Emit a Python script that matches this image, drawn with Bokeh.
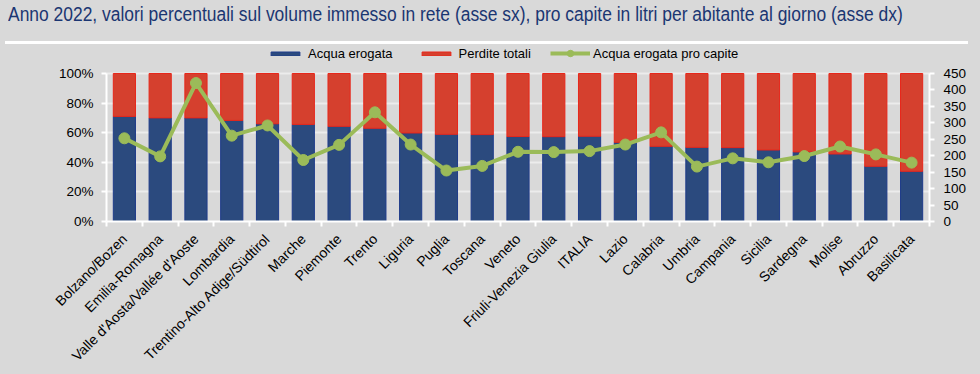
import math
from bokeh.plotting import figure
from bokeh.layouts import column
from bokeh.models import (Range1d, LinearAxis, FixedTicker, PrintfTickFormatter,
                          Legend, LegendItem, ColumnDataSource, Div)
from bokeh.embed import file_html
from bokeh.resources import INLINE

regions = ["Bolzano/Bozen", "Emilia-Romagna", "Valle d'Aosta/Vallée d'Aoste", "Lombardia",
           "Trentino-Alto Adige/Südtirol", "Marche", "Piemonte", "Trento", "Liguria", "Puglia",
           "Toscana", "Veneto", "Friuli-Venezia Giulia", "ITALIA", "Lazio", "Calabria", "Umbria",
           "Campania", "Sicilia", "Sardegna", "Molise", "Abruzzo", "Basilicata"]
acqua_erogata = [71.0, 70.0, 70.0, 68.3, 66.0, 65.6, 64.3, 63.0, 59.8, 58.9, 58.7, 57.4,
                 57.3, 57.6, 53.5, 50.8, 50.1, 49.9, 48.3, 47.0, 45.6, 37.3, 33.9]
perdite_totali = [round(100 - v, 1) for v in acqua_erogata]
pro_capite = [253, 198, 421, 261, 292, 187, 233, 332, 234, 155, 169, 212, 211, 214, 234,
              271, 167, 192, 180, 199, 228, 204, 179]
left_ticks = [0, 20, 40, 60, 80, 100]
right_ticks = [0, 50, 100, 150, 200, 250, 300, 350, 400, 450]

TITLE = ("Anno 2022, valori percentuali sul volume immesso in rete (asse sx), "
         "pro capite in litri per abitante al giorno (asse dx)")

BG = "#d9d9d9"
BLUE = "#2b4a7e"
RED = "#d5402e"
GREEN = "#9bbb59"
FONT = "Liberation Sans"

# layout geometry (pixels)
W, H = 980, 374
HEADER_H = 44
FIG_H = H - HEADER_H
FRAME_LEFT, FRAME_RIGHT = 106, 929
FRAME_TOP, AXIS_TOP, FRAME_BOTTOM = HEADER_H, 73, 221
scale = (FRAME_BOTTOM - FRAME_TOP) / (FRAME_BOTTOM - AXIS_TOP)
LEFT_MAX, RIGHT_MAX = left_ticks[-1], right_ticks[-1]

xs = list(range(len(regions)))
src = ColumnDataSource(dict(x=xs, ero=acqua_erogata, per=perdite_totali, pc=pro_capite,
                            top=[e + p for e, p in zip(acqua_erogata, perdite_totali)]))

p = figure(width=W, height=FIG_H, output_backend="svg", toolbar_location=None,
           x_range=Range1d(-0.5, len(regions) - 0.5), y_range=Range1d(0, LEFT_MAX * scale),
           min_border_left=FRAME_LEFT, min_border_right=W - FRAME_RIGHT,
           min_border_top=0, min_border_bottom=H - FRAME_BOTTOM)
p.background_fill_color = BG
p.border_fill_color = BG
p.outline_line_color = None
p.extra_y_ranges = {"pc": Range1d(0, RIGHT_MAX * scale)}

blue_r = p.vbar(x="x", bottom=0, top="ero", width=0.62, source=src,
                fill_color=BLUE, line_color="#1f3c8a", line_width=1)
red_r = p.vbar(x="x", bottom="ero", top="top", width=0.62, source=src,
               fill_color=RED, line_color="#e8261a", line_width=1)
line_r = p.line(x="x", y="pc", source=src, y_range_name="pc", line_color=GREEN, line_width=4)
dot_r = p.scatter(x="x", y="pc", source=src, y_range_name="pc", size=11,
                  fill_color=GREEN, line_color=GREEN)

# x axis
xa = p.xaxis[0]
xa.ticker = FixedTicker(ticks=xs, minor_ticks=[i - 0.5 for i in range(len(regions) + 1)])
xa.major_label_overrides = {i: r for i, r in enumerate(regions)}
xa.major_label_orientation = math.pi / 4
xa.major_tick_line_color = None
xa.major_tick_out = 0
xa.major_tick_in = 0
xa.minor_tick_line_color = "white"
xa.minor_tick_line_width = 2
xa.minor_tick_out = 5
xa.minor_tick_in = 0
xa.axis_line_color = "white"
xa.axis_line_width = 2
xa.major_label_standoff = 10
xa.major_label_text_font = FONT
xa.major_label_text_font_size = "14px"
xa.major_label_text_color = "black"

# left axis
ya = p.yaxis[0]
ya.ticker = FixedTicker(ticks=left_ticks)
ya.formatter = PrintfTickFormatter(format="%d%%")
ya.bounds = (0, LEFT_MAX)
ya.minor_tick_line_color = None
ya.major_tick_line_color = "white"
ya.major_tick_line_width = 2
ya.major_tick_out = 5
ya.major_tick_in = 0
ya.axis_line_color = "white"
ya.axis_line_width = 2
ya.major_label_standoff = 8
ya.major_label_text_font = FONT
ya.major_label_text_font_size = "13.5px"
ya.major_label_text_color = "black"

# right axis
ra = LinearAxis(y_range_name="pc", ticker=FixedTicker(ticks=right_ticks), bounds=(0, RIGHT_MAX))
ra.minor_tick_line_color = None
ra.major_tick_line_color = "white"
ra.major_tick_line_width = 2
ra.major_tick_out = 5
ra.major_tick_in = 0
ra.axis_line_color = "white"
ra.axis_line_width = 2
ra.major_label_standoff = 9
ra.major_label_text_font = FONT
ra.major_label_text_font_size = "13.5px"
ra.major_label_text_color = "black"
p.add_layout(ra, "right")

p.xgrid.grid_line_color = None
p.ygrid.ticker = FixedTicker(ticks=left_ticks)
p.ygrid.grid_line_color = "#ececec"
p.ygrid.grid_line_width = 2

# legends (inside the upper, empty part of the frame)
legend_y = (FRAME_BOTTOM - FRAME_TOP) - 9 - 8
leg1 = Legend(items=[LegendItem(label="Acqua erogata", renderers=[blue_r]),
                     LegendItem(label="Perdite totali", renderers=[red_r])],
              orientation="horizontal", location=(267 - FRAME_LEFT, legend_y),
              glyph_width=36, glyph_height=5, label_standoff=5, spacing=25,
              padding=0, margin=0, background_fill_alpha=0, border_line_alpha=0,
              label_text_font=FONT, label_text_font_size="13px", label_text_color="black",
              label_height=16)
leg2 = Legend(items=[LegendItem(label="Acqua erogata pro capite", renderers=[line_r, dot_r])],
              orientation="horizontal", location=(550 - FRAME_LEFT, legend_y),
              glyph_width=40, glyph_height=16, label_standoff=3,
              padding=0, margin=0, background_fill_alpha=0, border_line_alpha=0,
              label_text_font=FONT, label_text_font_size="13px", label_text_color="black",
              label_height=16)
p.add_layout(leg1, "center")
p.add_layout(leg2, "center")

header = Div(
    text=(f'<div style="height:28px;padding-left:8px;white-space:nowrap;overflow:visible">'
          f'<span style="display:inline-block;font-family:\'{FONT}\';font-size:20px;'
          f'color:#1b3672;line-height:28px;transform:scaleX(0.872);transform-origin:0 50%">'
          f'{TITLE}</span></div>'
          '<div style="margin-left:5px;margin-top:13px;width:963px;height:3px;'
          'background:white"></div>'),
    width=W, height=HEADER_H, margin=0,
    styles={"background-color": BG})

layout = column(header, p, spacing=0, styles={"background-color": BG})
open("out.html", "w").write(file_html(layout, INLINE))
